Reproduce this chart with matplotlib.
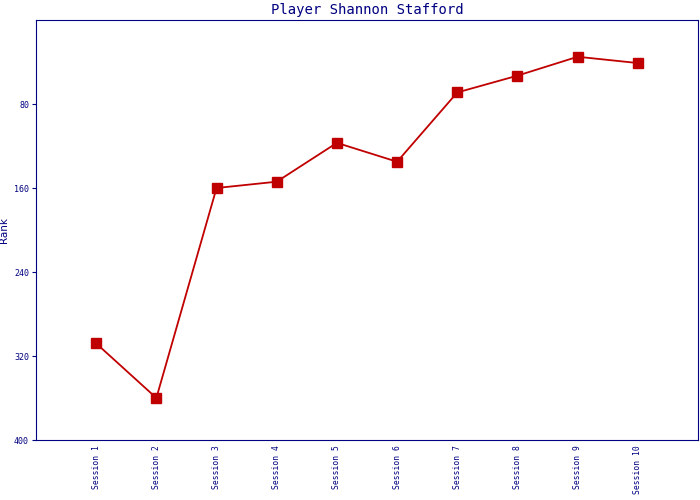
import matplotlib
matplotlib.use("Agg")
import matplotlib.pyplot as plt

sessions = [f"Session {i}" for i in range(1, 11)]
ranks = [308, 360, 160, 154, 117, 135, 69, 53, 35, 41]
y_ticks = [80, 160, 240, 320, 400]

NAVY = "#000080"
RED = "#c00000"

fig = plt.figure(figsize=(7, 5), dpi=100)
ax = fig.add_axes([36 / 700, 60 / 500, 662 / 700, 420 / 500])

x = list(range(1, len(sessions) + 1))
ax.plot(x, ranks, "-", color=RED, lw=1.3, marker="s", ms=7.5,
        mfc=RED, mec=RED)

ax.set_xlim(0, 11)
ax.set_ylim(400, 0)
ax.set_xticks(x)
ax.set_xticklabels(sessions, rotation=90, fontsize=5.8,
                   family="DejaVu Sans Mono", color=NAVY)
ax.set_yticks(y_ticks)
ax.set_yticklabels([str(v) for v in y_ticks], fontsize=6,
                   family="DejaVu Sans Mono", color=NAVY)
ax.tick_params(axis="x", length=0, pad=4)
ax.tick_params(axis="y", length=3, color=NAVY, pad=2)
for s in ax.spines.values():
    s.set_color(NAVY)
ax.set_ylabel("Rank", fontsize=7.5, color=NAVY, labelpad=4)
ax.set_title("Player Shannon Stafford", fontsize=10, color=NAVY,
             family="DejaVu Sans Mono", pad=4)

fig.savefig("out.png", dpi=100)
